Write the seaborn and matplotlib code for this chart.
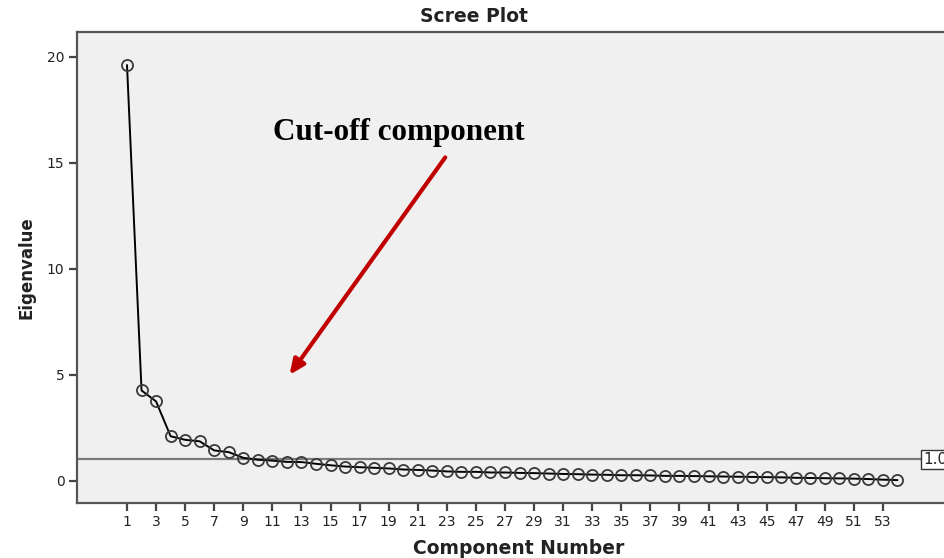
import matplotlib
matplotlib.use("Agg")
import matplotlib.pyplot as plt
import seaborn as sns
import pandas as pd

components = list(range(1, 55))
eigenvalues = [19.6, 4.25, 3.73, 2.09, 1.92, 1.85, 1.42, 1.34, 1.07, 0.98,
               0.94, 0.88, 0.87, 0.79, 0.72, 0.66, 0.63, 0.60, 0.57, 0.52,
               0.50, 0.47, 0.43, 0.41, 0.41, 0.38, 0.38, 0.36, 0.35, 0.33,
               0.31, 0.30, 0.28, 0.27, 0.25, 0.25, 0.24, 0.22, 0.22, 0.21,
               0.20, 0.19, 0.18, 0.17, 0.16, 0.15, 0.13, 0.12, 0.11, 0.10,
               0.09, 0.07, 0.04, 0.02]
xtick_values = list(range(1, 54, 2))
ytick_values = [0, 5, 10, 15, 20]
cutoff_value = 1.0
title = "Scree Plot"
xlabel = "Component Number"
ylabel = "Eigenvalue"
annotation = "Cut-off component"

df = pd.DataFrame({"Component Number": components, "Eigenvalue": eigenvalues})

sns.set_style("white")
plt.rcParams['font.family'] = ['DejaVu Sans']

W, H = 944, 558
fig = plt.figure(figsize=(W / 100, H / 100), dpi=100)
left, right, top, bottom = 77, 960, 32, 503
ax = fig.add_axes([left / W, (H - bottom) / H, (right - left) / W, (bottom - top) / H])
ax.set_facecolor("#f0f0f0")

ax.axhline(cutoff_value, color="#7a7a7a", lw=1.6, zorder=1)

sns.lineplot(data=df, x="Component Number", y="Eigenvalue", ax=ax,
             color="black", lw=1.4, marker="o", markersize=8,
             markerfacecolor="none", markeredgecolor="#3a3a3a",
             markeredgewidth=1.3, zorder=3)

ax.set_xlim(-2.44, 58.3)
ax.set_ylim(-1.06, 21.16)
ax.set_xticks(xtick_values)
ax.set_yticks(ytick_values)
ax.tick_params(axis="both", direction="out", length=6, width=1.6,
               color="#444444", labelsize=10, labelcolor="#222222", pad=3)
ax.tick_params(axis="x", bottom=True)
ax.tick_params(axis="y", left=True)
for s in ax.spines.values():
    s.set_color("#555555")
    s.set_linewidth(1.6)

ax.set_xlabel(xlabel, fontsize=13.5, fontweight="bold", labelpad=7, color="#222222")
ax.set_ylabel(ylabel, fontsize=12, fontweight="bold", labelpad=8, color="#222222")
fig.text(474 / W, 1 - 17 / H, title, ha="center", va="center",
         fontsize=13.5, fontweight="bold", color="#222222")

ax.text(55.75, cutoff_value, "1.0", ha="left", va="center", fontsize=11,
        bbox=dict(boxstyle="square,pad=0.15", fc="white", ec="#333333", lw=1),
        clip_on=False)

ax.text(11.04, 16.4, annotation, ha="left", va="center", fontsize=22.4,
        fontweight="bold", family=["Liberation Serif", "DejaVu Serif"], color="black")
ax.annotate("", xy=(12.07, 4.88), xytext=(23.0, 15.35),
            arrowprops=dict(arrowstyle="-|>,head_length=0.9,head_width=0.4",
                            color="#c00000", lw=3))

fig.savefig("out.png", dpi=100, facecolor="white")
